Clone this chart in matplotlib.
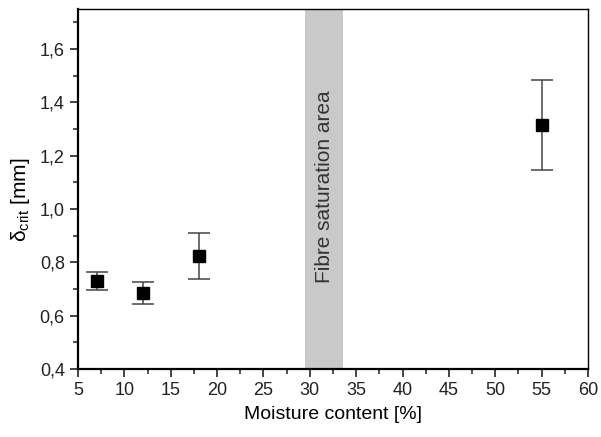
"""Critical displacement vs moisture content with fibre saturation band."""

import matplotlib

matplotlib.use("Agg")
import matplotlib.pyplot as plt
from matplotlib.ticker import FuncFormatter, MultipleLocator

moisture = [7, 12, 18, 55]
delta_crit = [0.73, 0.685, 0.825, 1.315]
delta_err = [0.035, 0.04, 0.086, 0.17]
fsp_band = (29.5, 33.6)
band_label = "Fibre saturation area"

plt.rcParams["font.family"] = ["Liberation Sans", "DejaVu Sans"]
plt.rcParams["mathtext.fontset"] = "custom"
plt.rcParams["mathtext.rm"] = "Liberation Sans"
plt.rcParams["mathtext.it"] = "Liberation Sans:italic"

fig = plt.figure(figsize=(6.01, 4.37), dpi=100)
ax = fig.add_axes([78 / 601, 1 - 369 / 437, 510 / 601, 360 / 437])

ax.axvspan(*fsp_band, color="#c9c9c9", lw=0, zorder=0)
ax.text(sum(fsp_band) / 2, 1.085, band_label, rotation=90, ha="center", va="center",
        fontsize=15, color="#333333")

ax.errorbar(moisture, delta_crit, yerr=delta_err, fmt="s", color="black", ms=8.5,
            ecolor="#444444", elinewidth=1.1, capsize=8, capthick=1.1, zorder=3)

ax.set_xlim(5, 60)
ax.set_ylim(0.4, 1.75)
ax.xaxis.set_major_locator(MultipleLocator(5))
ax.xaxis.set_minor_locator(MultipleLocator(2.5))
ax.yaxis.set_major_locator(MultipleLocator(0.2))
ax.yaxis.set_minor_locator(MultipleLocator(0.1))
ax.yaxis.set_major_formatter(FuncFormatter(lambda v, p: f"{v:.1f}".replace(".", ",")))

ax.tick_params(which="major", direction="out", length=6, width=1.2, labelsize=13,
               colors="#222222")
ax.tick_params(which="minor", direction="out", length=3.5, width=1.1, colors="#222222")
for side in ["left", "bottom"]:
    ax.spines[side].set_linewidth(1.6)
for side in ["top", "right"]:
    ax.spines[side].set_linewidth(1.0)

ax.set_xlabel("Moisture content [%]", fontsize=14, labelpad=5)
ax.set_ylabel("δ$_{\\rm crit}$ [mm]", fontsize=15)
ax.yaxis.set_label_coords(-0.09, 0.47)

fig.savefig("out.png", dpi=100)
